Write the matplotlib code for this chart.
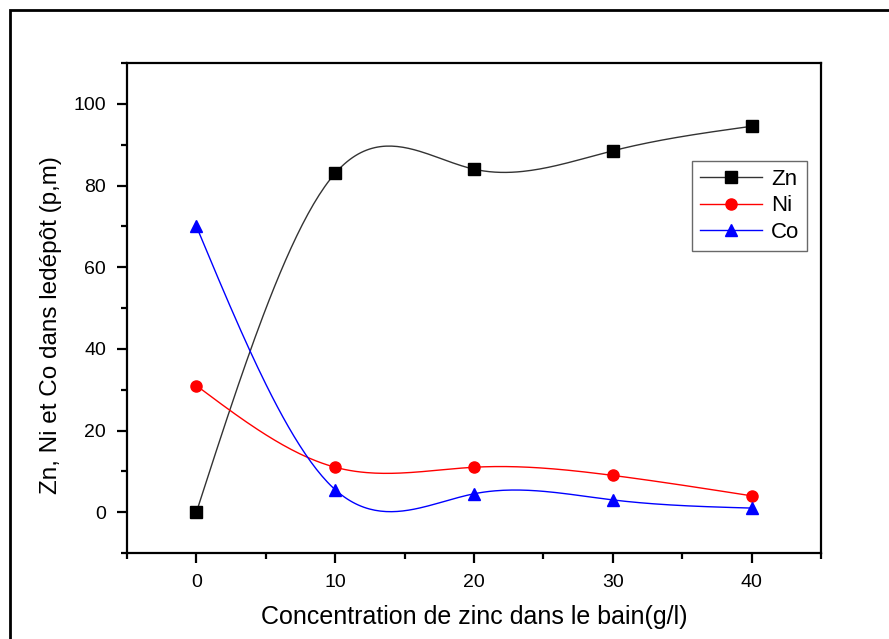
import numpy as np
import matplotlib.pyplot as plt
from matplotlib.patches import Rectangle

plt.rcParams['font.family'] = ['Liberation Sans', 'DejaVu Sans']

conc = [0, 10, 20, 30, 40]
zn = [0, 83, 84, 88.5, 94.5]
ni = [31, 11, 11, 9, 4]
co = [70, 5.5, 4.5, 3, 1]


def spline(xs, ys, num=200):
    # natural cubic spline, like Origin's "Spline" connect
    xs = np.asarray(xs, float)
    ys = np.asarray(ys, float)
    n = len(xs)
    h = np.diff(xs)
    A = np.zeros((n, n))
    b = np.zeros(n)
    A[0, 0] = 1
    A[-1, -1] = 1
    for i in range(1, n - 1):
        A[i, i - 1] = h[i - 1]
        A[i, i] = 2 * (h[i - 1] + h[i])
        A[i, i + 1] = h[i]
        b[i] = 6 * ((ys[i + 1] - ys[i]) / h[i] - (ys[i] - ys[i - 1]) / h[i - 1])
    m = np.linalg.solve(A, b)
    xx = np.linspace(xs[0], xs[-1], num)
    yy = np.empty_like(xx)
    for k, x in enumerate(xx):
        i = min(np.searchsorted(xs, x, side='right') - 1, n - 2)
        t1 = xs[i + 1] - x
        t0 = x - xs[i]
        yy[k] = (m[i] * t1 ** 3 / (6 * h[i]) + m[i + 1] * t0 ** 3 / (6 * h[i])
                 + (ys[i] / h[i] - m[i] * h[i] / 6) * t1
                 + (ys[i + 1] / h[i] - m[i + 1] * h[i] / 6) * t0)
    return xx, yy


fig = plt.figure(figsize=(8.89, 6.39), dpi=100)
fig.patches.append(Rectangle((10 / 889, -0.05), 1.1, 1 - 10 / 639 + 0.05,
                             transform=fig.transFigure, fill=False,
                             edgecolor='black', linewidth=2))
ax = fig.add_axes([127 / 889, 1 - 553 / 639, (821 - 127) / 889, (553 - 63) / 639])

series = [(zn, 'Zn', 'black', 's', '#333333'),
          (ni, 'Ni', 'red', 'o', 'red'),
          (co, 'Co', 'blue', '^', 'blue')]
for ys, name, col, mk, lc in series:
    xx, yy = spline(conc, ys)
    ax.plot(xx, yy, color=lc, lw=1)
    ax.plot(conc, ys, ls='none', marker=mk, color=col, markersize=8)
    ax.plot([], [], color=lc, lw=1, marker=mk, markerfacecolor=col,
            markeredgecolor=col, markersize=8, label=name)

ax.set_xlim(-5, 45)
ax.set_ylim(-10, 110)
ax.set_xticks([0, 10, 20, 30, 40])
ax.set_xticks([-5, 5, 15, 25, 35, 45], minor=True)
ax.set_yticks([0, 20, 40, 60, 80, 100])
ax.set_yticks([-10, 10, 30, 50, 70, 90, 110], minor=True)
ax.tick_params(which='major', direction='out', length=7, width=1.6, labelsize=14, pad=8)
ax.tick_params(which='minor', direction='out', length=4, width=1.6)
for s in ax.spines.values():
    s.set_linewidth(1.6)

ax.set_xlabel('Concentration de zinc dans le bain(g/l)', fontsize=18, labelpad=10)
ax.set_ylabel('Zn, Ni et Co dans ledépôt (p,m)', fontsize=17.5)
ax.yaxis.set_label_coords(-0.094, 0.465)

leg = ax.legend(loc='upper right', bbox_to_anchor=(0.98, 0.80), fontsize=16,
                frameon=True, fancybox=False, handlelength=2.8, borderpad=0.35,
                labelspacing=0.25, handletextpad=0.4, borderaxespad=0)
leg.get_frame().set_edgecolor('#444444')
leg.get_frame().set_linewidth(1)

fig.savefig('out.png', dpi=100)
